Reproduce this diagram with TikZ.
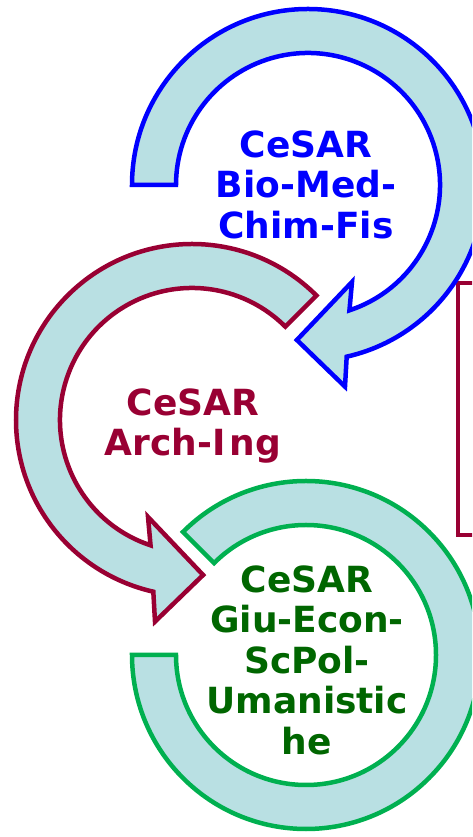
\documentclass[tikz,border=0pt]{standalone}
\usepackage{fontspec}
\setmainfont{DejaVu Sans}
\definecolor{ringfill}{RGB}{185,224,227}
\definecolor{cblue}{RGB}{0,0,255}
\definecolor{cmaroon}{RGB}{153,0,51}
\definecolor{cgreen}{RGB}{0,176,80}
\definecolor{tgreen}{RGB}{0,102,0}
\tikzset{
  ring/.style={fill=ringfill, line width=4.5pt, line join=miter},
  lbl/.style={inner sep=0pt, align=center, font=\fontsize{36}{40.5}\selectfont\bfseries},
}
\begin{document}
\begin{tikzpicture}
\useasboundingbox (0pt,0pt) rectangle (472pt,837pt);
\clip (0pt,0pt) rectangle (472pt,837pt);
% right frame
\draw[cmaroon, line width=4.5pt] (520pt,554pt) -- (458pt,554pt) -- (458pt,302pt) -- (520pt,302pt);
% blue arrow
\begin{scope}[shift={(308pt,652pt)}]
\coordinate (bc) at (0,0);
\draw[ring, draw=cblue] (180:176pt) arc[start angle=180, end angle=-77.3, radius=176pt]
  -- (-79.6:205pt) -- (-94.1:155.4pt) -- (-65.6:106.5pt) -- (-71.7:132pt)
  arc[start angle=-71.7, end angle=180, radius=132pt] -- cycle;
\end{scope}
% maroon arrow
\begin{scope}[shift={(192pt,417pt)}]
\coordinate (mc) at (0,0);
\draw[ring, draw=cmaroon] (45:176pt) arc[start angle=45, end angle=257.3, radius=176pt]
  -- (259.6:205pt) -- (274.1:155.4pt) -- (245.6:106.5pt) -- (251.7:132pt)
  arc[start angle=251.7, end angle=45, radius=132pt] -- cycle;
\end{scope}
% green ring
\begin{scope}[shift={(306pt,182pt)}]
\coordinate (gc) at (0,0);
\draw[ring, draw=cgreen] (135:174pt) arc[start angle=135, end angle=-180, radius=174pt]
  -- (180:130pt) arc[start angle=-180, end angle=135, radius=130pt] -- cycle;
\end{scope}
% labels
\node[lbl, text=cblue] (tb) at (306pt,652.5pt) {CeSAR\\Bio-Med-\\Chim-Fis};
\node[lbl, text=cmaroon] (tm) at (193pt,411pt) {CeSAR\\Arch-I\kern4pt ng};
\node[lbl, text=tgreen] (tg) at (307pt,177pt) {CeSAR\\Giu-Econ-\\ScPol-\\Umanistic\\he};
\end{tikzpicture}
\end{document}
